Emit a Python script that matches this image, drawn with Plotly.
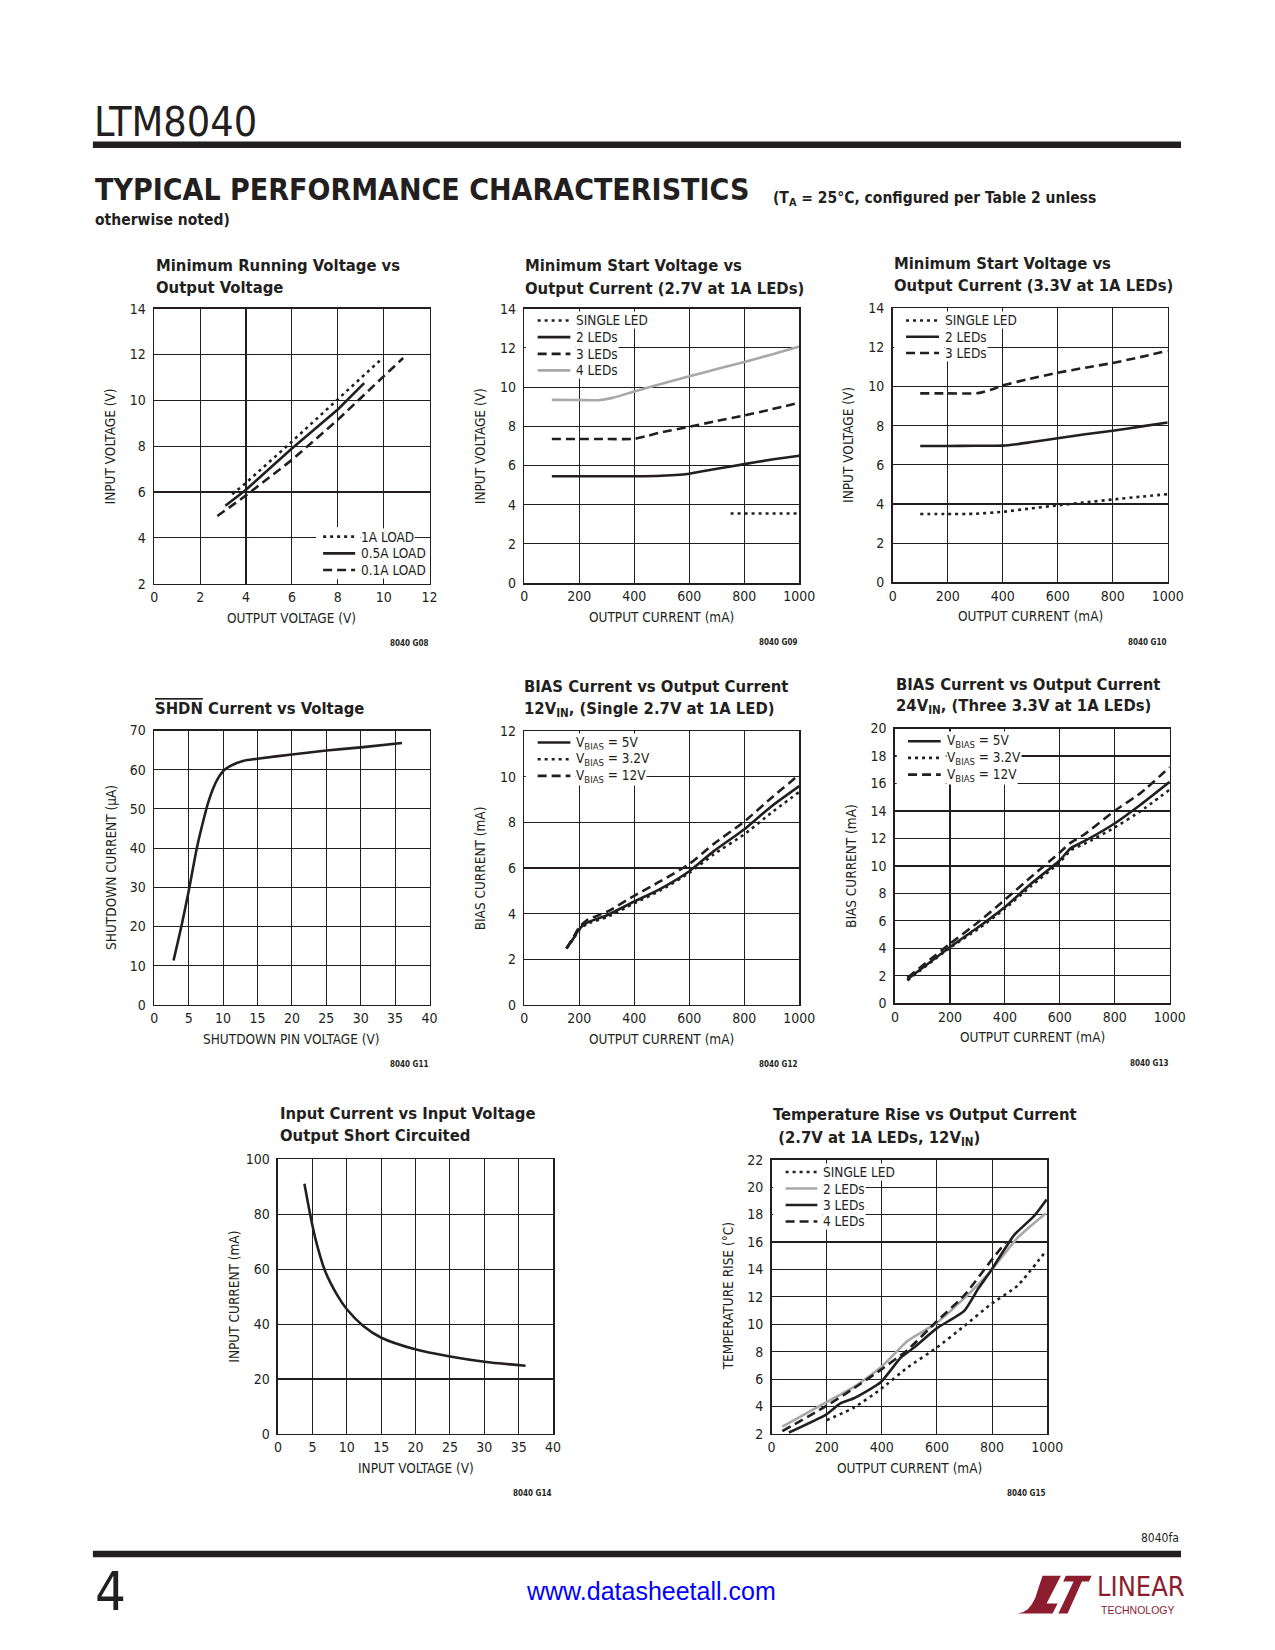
import plotly.graph_objects as go

W, H = 1275, 1650
INK = "#231f20"
GRAY = "#a8a8a8"
MAROON = "#8c1d2e"
NARROW = "DejaVu Sans Condensed, Liberation Sans Narrow, Arial Narrow, Liberation Sans, sans-serif"

# mapping from target picture pixels to page pixels (compensates the capture framing)
SX, OX = 0.9833, 4.2
SY, OY = 0.9908, 6.4

def X(px):
    return ((px - OX) / SX) / W

def Y(py):
    return 1 - ((py - OY) / SY) / H

# ---------------- DATA ----------------
# G08 Minimum running voltage vs output voltage
g08_x_1a = [3.4, 4.0, 6.0, 8.0, 9.9]
g08_y_1a = [5.9, 6.4, 8.2, 10.05, 11.8]
g08_x_05a = [3.1, 4.0, 6.0, 8.0, 9.15]
g08_y_05a = [5.4, 6.1, 7.9, 9.6, 10.75]
g08_x_01a = [2.75, 4.0, 6.0, 8.0, 10.0, 10.85]
g08_y_01a = [4.95, 5.85, 7.4, 9.15, 11.05, 11.85]

# G09 Minimum start voltage (2.7V at 1A LEDs)
g09_x_single = [750, 1000]
g09_y_single = [3.55, 3.55]
g09_x_2led = [100, 300, 480, 550, 600, 700, 800, 900, 1000]
g09_y_2led = [5.45, 5.45, 5.46, 5.51, 5.58, 5.83, 6.07, 6.3, 6.5]
g09_x_3led = [100, 300, 400, 450, 500, 600, 700, 800, 900, 1000]
g09_y_3led = [7.35, 7.35, 7.36, 7.52, 7.7, 7.98, 8.27, 8.55, 8.87, 9.2]
g09_x_4led = [100, 200, 270, 320, 400, 500, 600, 700, 800, 900, 1000]
g09_y_4led = [9.35, 9.34, 9.33, 9.45, 9.78, 10.17, 10.55, 10.92, 11.28, 11.67, 12.07]

# G10 Minimum start voltage (3.3V at 1A LEDs)
g10_x_single = [100, 200, 300, 400, 500, 600, 700, 800, 900, 1000]
g10_y_single = [3.49, 3.49, 3.5, 3.6, 3.77, 3.93, 4.08, 4.23, 4.37, 4.5]
g10_x_2led = [100, 200, 300, 400, 450, 500, 600, 700, 800, 900, 1000]
g10_y_2led = [6.96, 6.96, 6.97, 6.98, 7.05, 7.15, 7.36, 7.56, 7.74, 7.95, 8.16]
g10_x_3led = [100, 200, 310, 360, 400, 500, 600, 700, 800, 900, 1000]
g10_y_3led = [9.65, 9.65, 9.66, 9.85, 10.05, 10.4, 10.7, 10.96, 11.2, 11.5, 11.82]

# G11 SHDN current vs voltage
g11_v = [2.8, 4.0, 5.0, 6.2, 7.2, 7.9, 8.6, 9.3, 10.0, 11.0, 13.0, 15.0, 20.0, 25.0, 30.0, 36.0]
g11_i = [11.3, 20.5, 29.0, 40.1, 47.5, 52.0, 55.4, 57.9, 59.6, 60.9, 62.3, 62.8, 63.9, 64.9, 65.7, 66.8]

# G12 BIAS current, 12VIN single LED
g12_x = [153, 180, 198, 228, 301, 398, 495, 600, 689, 799, 896, 1000]
g12_5v = [2.47, 2.94, 3.3, 3.6, 3.93, 4.52, 5.09, 5.86, 6.74, 7.69, 8.68, 9.59]
g12_32v = [2.47, 2.92, 3.26, 3.55, 3.85, 4.44, 5.02, 5.79, 6.6, 7.47, 8.4, 9.34]
g12_12v = [2.47, 3.0, 3.38, 3.72, 4.08, 4.77, 5.42, 6.18, 7.06, 8.03, 9.05, 10.1]

# G13 BIAS current, 24VIN three LEDs
g13_x = [45, 197, 300, 397, 495, 599, 640, 689, 798, 895, 1000]
g13_5v = [1.75, 4.05, 5.5, 6.96, 8.7, 10.4, 11.3, 11.8, 13.07, 14.47, 16.12]
g13_32v = [1.67, 4.0, 5.38, 6.84, 8.53, 10.25, 11.15, 11.6, 12.78, 14.0, 15.56]
g13_12v = [1.87, 4.29, 5.87, 7.49, 9.19, 10.96, 11.7, 12.29, 13.99, 15.32, 17.19]

# G14 Input current vs input voltage, output short circuited
g14_v = [3.83, 4.66, 5.39, 6.84, 8.54, 10.0, 12.4, 14.95, 19.95, 25.0, 30.0, 36.0]
g14_i = [91.1, 80.0, 71.5, 59.3, 50.8, 45.4, 39.3, 35.1, 30.8, 28.2, 26.3, 24.8]

# G15 Temperature rise vs output current
g15_x_single = [200, 299, 396, 493, 599, 699, 795, 892, 998]
g15_y_single = [3.0, 3.92, 5.26, 6.84, 8.29, 9.87, 11.45, 12.8, 15.4]
g15_x_2led = [39, 196, 299, 396, 493, 599, 699, 795, 892, 995]
g15_y_2led = [2.53, 4.28, 5.43, 6.84, 8.78, 10.1, 11.9, 13.88, 16.3, 18.1]
g15_x_3led = [63, 196, 251, 299, 396, 469, 517, 599, 699, 750, 795, 880, 953, 998]
g15_y_3led = [2.1, 3.39, 4.24, 4.6, 5.77, 7.57, 8.3, 9.7, 10.97, 12.6, 13.88, 16.5, 17.9, 19.1]
g15_x_4led = [39, 196, 299, 396, 493, 599, 699, 795, 850]
g15_y_4led = [2.2, 4.0, 5.33, 6.67, 8.12, 10.2, 12.1, 14.6, 16.0]

# ---------------- LAYOUT ----------------
charts = [
    dict(box=(154.3, 307.3, 429.3, 582.3), xr=[0, 12], xd=2, yr=[2, 14], yd=2),
    dict(box=(524.0, 307.3, 798.7, 581.7), xr=[0, 1000], xd=200, yr=[0, 14], yd=2),
    dict(box=(892.0, 306.7, 1166.7, 581.0), xr=[0, 1000], xd=200, yr=[0, 14], yd=2),
    dict(box=(154.3, 729.3, 429.3, 1003.7), xr=[0, 40], xd=5, yr=[0, 70], yd=10),
    dict(box=(524.0, 730.0, 798.7, 1003.7), xr=[0, 1000], xd=200, yr=[0, 12], yd=2),
    dict(box=(894.3, 727.3, 1168.7, 1002.3), xr=[0, 1000], xd=200, yr=[0, 20], yd=2),
    dict(box=(278.0, 1158.3, 552.7, 1433.0), xr=[0, 40], xd=5, yr=[0, 100], yd=20),
    dict(box=(771.0, 1158.7, 1046.3, 1433.0), xr=[0, 1000], xd=200, yr=[2, 22], yd=2),
]

fig = go.Figure()

axis_common = dict(
    showline=True, mirror=True, linecolor=INK, linewidth=1.6,
    showgrid=True, gridcolor=INK, gridwidth=1.1, zeroline=False,
    tickfont=dict(family=NARROW, size=14, color=INK), fixedrange=True,
)

layout_axes = {}
for i, c in enumerate(charts, start=1):
    l, t, r, b = c["box"]
    sfx = "" if i == 1 else str(i)
    layout_axes["xaxis" + sfx] = dict(domain=[X(l), X(r)], range=c["xr"], dtick=c["xd"],
                                      tick0=c["xr"][0], anchor="y" + sfx, ticks="",
                                      **axis_common)
    layout_axes["yaxis" + sfx] = dict(domain=[Y(b), Y(t)], range=c["yr"], dtick=c["yd"],
                                      tick0=c["yr"][0], anchor="x" + sfx, ticks="outside",
                                      ticklen=4, tickcolor="rgba(0,0,0,0)", **axis_common)

DOT = "3px,4px"
DASH = "9px,5px"
LW = 2.6

def add_line(i, x, y, color=INK, dash="solid", shape="linear", smoothing=None):
    sfx = "" if i == 1 else str(i)
    line = dict(color=color, width=LW, dash=dash, shape=shape)
    if smoothing is not None:
        line["smoothing"] = smoothing
    fig.add_trace(go.Scatter(x=x, y=y, mode="lines", line=line,
                             xaxis="x" + sfx, yaxis="y" + sfx, showlegend=False,
                             hoverinfo="skip"))

add_line(1, g08_x_1a, g08_y_1a, dash=DOT)
add_line(1, g08_x_05a, g08_y_05a)
add_line(1, g08_x_01a, g08_y_01a, dash=DASH)

add_line(2, g09_x_4led, g09_y_4led, color=GRAY, shape="spline", smoothing=0.6)
add_line(2, g09_x_single, g09_y_single, dash=DOT)
add_line(2, g09_x_2led, g09_y_2led, shape="spline", smoothing=0.6)
add_line(2, g09_x_3led, g09_y_3led, dash=DASH, shape="spline", smoothing=0.6)

add_line(3, g10_x_single, g10_y_single, dash=DOT, shape="spline", smoothing=0.6)
add_line(3, g10_x_2led, g10_y_2led, shape="spline", smoothing=0.6)
add_line(3, g10_x_3led, g10_y_3led, dash=DASH, shape="spline", smoothing=0.6)

add_line(4, g11_v, g11_i, shape="spline", smoothing=0.8)

add_line(5, g12_x, g12_32v, dash=DOT, shape="spline", smoothing=0.6)
add_line(5, g12_x, g12_5v, shape="spline", smoothing=0.6)
add_line(5, g12_x, g12_12v, dash=DASH, shape="spline", smoothing=0.6)

add_line(6, g13_x, g13_32v, dash=DOT, shape="spline", smoothing=0.5)
add_line(6, g13_x, g13_5v, shape="spline", smoothing=0.5)
add_line(6, g13_x, g13_12v, dash=DASH, shape="spline", smoothing=0.5)

add_line(7, g14_v, g14_i, shape="spline", smoothing=0.8)

add_line(8, g15_x_2led, g15_y_2led, color=GRAY, shape="spline", smoothing=0.5)
add_line(8, g15_x_single, g15_y_single, dash=DOT, shape="spline", smoothing=0.5)
add_line(8, g15_x_3led, g15_y_3led, shape="spline", smoothing=0.5)
add_line(8, g15_x_4led, g15_y_4led, dash=DASH, shape="spline", smoothing=0.5)

shapes = []
annotations = []

def text(px, py, s, size=15, anchor="left", bold=False, color=INK, angle=0, family=NARROW, bg=None, yanchor="middle"):
    if bold:
        s = "<b>" + s + "</b>"
    a = dict(x=X(px), y=Y(py), xref="paper", yref="paper", text=s, showarrow=False,
             xanchor=anchor, yanchor=yanchor, textangle=angle,
             font=dict(family=family, size=size, color=color))
    if bg:
        a["bgcolor"] = bg
        a["borderpad"] = 0
    annotations.append(a)

# Chart titles
TS = 16.5
titles = [
    (154, [(264, "Minimum Running Voltage vs"), (286, "Output Voltage")]),
    (523, [(264, "Minimum Start Voltage vs"), (287, "Output Current (2.7V at 1A LEDs)")]),
    (891, [(262, "Minimum Start Voltage vs"), (284, "Output Current (3.3V at 1A LEDs)")]),
    (153, [(707, '<span style="text-decoration:overline">SHDN</span> Current vs Voltage')]),
    (522, [(685, "BIAS Current vs Output Current"), (708, "12V<sub>IN</sub>, (Single 2.7V at 1A LED)")]),
    (893, [(683, "BIAS Current vs Output Current"), (705, "24V<sub>IN</sub>, (Three 3.3V at 1A LEDs)")]),
    (278, [(1112, "Input Current vs Input Voltage"), (1134, "Output Short Circuited")]),
    (770, [(1113, "Temperature Rise vs Output Current"), (1137, " (2.7V at 1A LEDs, 12V<sub>IN</sub>)")]),
]
for x0, lines in titles:
    for yy, s in lines:
        text(x0, yy, s, size=TS, bold=True)

# Axis titles and graph IDs
axis_titles = [
    ("OUTPUT VOLTAGE (V)", "INPUT VOLTAGE (V)", "8040 G08"),
    ("OUTPUT CURRENT (mA)", "INPUT VOLTAGE (V)", "8040 G09"),
    ("OUTPUT CURRENT (mA)", "INPUT VOLTAGE (V)", "8040 G10"),
    ("SHUTDOWN PIN VOLTAGE (V)", "SHUTDOWN CURRENT (µA)", "8040 G11"),
    ("OUTPUT CURRENT (mA)", "BIAS CURRENT (mA)", "8040 G12"),
    ("OUTPUT CURRENT (mA)", "BIAS CURRENT (mA)", "8040 G13"),
    ("INPUT VOLTAGE (V)", "INPUT CURRENT (mA)", "8040 G14"),
    ("OUTPUT CURRENT (mA)", "TEMPERATURE RISE (°C)", "8040 G15"),
]
for c, (xt, yt, gid) in zip(charts, axis_titles):
    l, t, r, b = c["box"]
    text((l + r) / 2, b + 34, xt, size=13.5, anchor="center")
    text(l - 44, (t + b) / 2, yt, size=13.5, anchor="center", angle=-90)
    text(r, b + 60, gid, size=8, anchor="right", bold=True)

# Manual legends
ROW = 16.7

def legend(bg_left, sx0, sx1, tx, ys, entries):
    top = ys[0] - ROW / 2 - 1
    bot = ys[-1] + ROW / 2 + 1
    shapes.append(dict(type="rect", xref="paper", yref="paper", x0=X(bg_left), x1=X(tx),
                       y0=Y(bot), y1=Y(top), fillcolor="white", line=dict(width=0), layer="above"))
    for yy, (lab, col, dash) in zip(ys, entries):
        shapes.append(dict(type="line", xref="paper", yref="paper", x0=X(sx0), x1=X(sx1),
                           y0=Y(yy), y1=Y(yy), line=dict(color=col, width=LW, dash=dash), layer="above"))
        text(tx, yy, lab, size=13.5, bg="white")

legend(316, 323, 355, 360, [535.3, 552.0, 568.7],
       [("1A LOAD", INK, DOT), ("0.5A LOAD", INK, "solid"), ("0.1A LOAD", INK, DASH)])
legend(525.5, 537.3, 570, 575, [319, 335.7, 352.4, 369],
       [("SINGLE LED", INK, DOT), ("2 LEDs", INK, "solid"), ("3 LEDs", INK, DASH), ("4 LEDs", GRAY, "solid")])
legend(893.5, 905.3, 938.3, 943.3, [319, 335.3, 351.6],
       [("SINGLE LED", INK, DOT), ("2 LEDs", INK, "solid"), ("3 LEDs", INK, DASH)])
legend(525.5, 537.3, 570, 575, [741.3, 758, 774.7],
       [("V<sub>BIAS</sub> = 5V", INK, "solid"), ("V<sub>BIAS</sub> = 3.2V", INK, DOT),
        ("V<sub>BIAS</sub> = 12V", INK, DASH)])
legend(896, 907.3, 940, 945, [740, 756.7, 773.4],
       [("V<sub>BIAS</sub> = 5V", INK, "solid"), ("V<sub>BIAS</sub> = 3.2V", INK, DOT),
        ("V<sub>BIAS</sub> = 12V", INK, DASH)])
legend(772.5, 785, 816.7, 821.7, [1171, 1187.5, 1204, 1220.5],
       [("SINGLE LED", INK, DOT), ("2 LEDs", GRAY, "solid"), ("3 LEDs", INK, "solid"), ("4 LEDs", INK, DASH)])

# Page header / footer
text(92, 120, "LTM8040", size=41)
shapes.append(dict(type="rect", xref="paper", yref="paper", x0=X(93), x1=X(1180), y0=Y(146.5), y1=Y(140),
                   fillcolor=INK, line=dict(width=0)))
text(93, 188, "TYPICAL PERFORMANCE CHARACTERISTICS", size=30, bold=True)
text(770, 197, "(T<sub>A</sub> = 25°C, configured per Table 2 unless", size=15.5, bold=True)
text(93, 219, "otherwise noted)", size=15.5, bold=True)

text(1180, 1537, "8040fa", size=12, anchor="right")
shapes.append(dict(type="rect", xref="paper", yref="paper", x0=X(93), x1=X(1180), y0=Y(1556.5), y1=Y(1550),
                   fillcolor=INK, line=dict(width=0)))
text(93, 1591, "4", size=54)
text(651, 1590, "www.datasheetall.com", size=25, anchor="center", color="#0000ff",
     family="Liberation Sans, Arial, sans-serif")

def path(pts):
    s = "M " + " L ".join(f"{X(a):.5f},{Y(b):.5f}" for a, b in pts) + " Z"
    return s

# Linear Technology logo (decoration)
shapes.append(dict(type="path", xref="paper", yref="paper", fillcolor=MAROON, line=dict(width=0),
                   path=path([(1041.7, 1575), (1060, 1575), (1045.7, 1602.7), (1056.7, 1602.7),
                              (1051.7, 1612.7), (1016.7, 1612.7), (1022, 1611.5), (1027, 1608.5),
                              (1031, 1603.5), (1034.5, 1597), (1038, 1586)])))
shapes.append(dict(type="path", xref="paper", yref="paper", fillcolor=MAROON, line=dict(width=0),
                   path=path([(1065, 1575), (1090.7, 1575), (1088, 1580.7), (1081, 1580.7),
                              (1066.7, 1612.7), (1057.5, 1612.7), (1072.7, 1580.7), (1062.3, 1580.7)])))
text(1094, 1586, "LINEAR", size=27, color=MAROON)
text(1098, 1609, "TECHNOLOGY", size=10.5, color=MAROON, family="Liberation Sans, Arial, sans-serif")

fig.update_layout(
    width=W, height=H,
    margin=dict(l=0, r=0, t=0, b=0),
    paper_bgcolor="white", plot_bgcolor="white",
    showlegend=False,
    shapes=shapes, annotations=annotations,
    **layout_axes,
)

POST = ("var gd=document.getElementById('{plot_id}');"
        "gd.style.position='fixed';gd.style.left='0px';gd.style.top='0px';"
        "document.body.style.margin='0px';"
        "document.documentElement.style.overflow='hidden';"
        "document.body.style.overflow='hidden';")

fig.write_html("out.html", config={"displayModeBar": False, "staticPlot": True}, post_script=POST)
